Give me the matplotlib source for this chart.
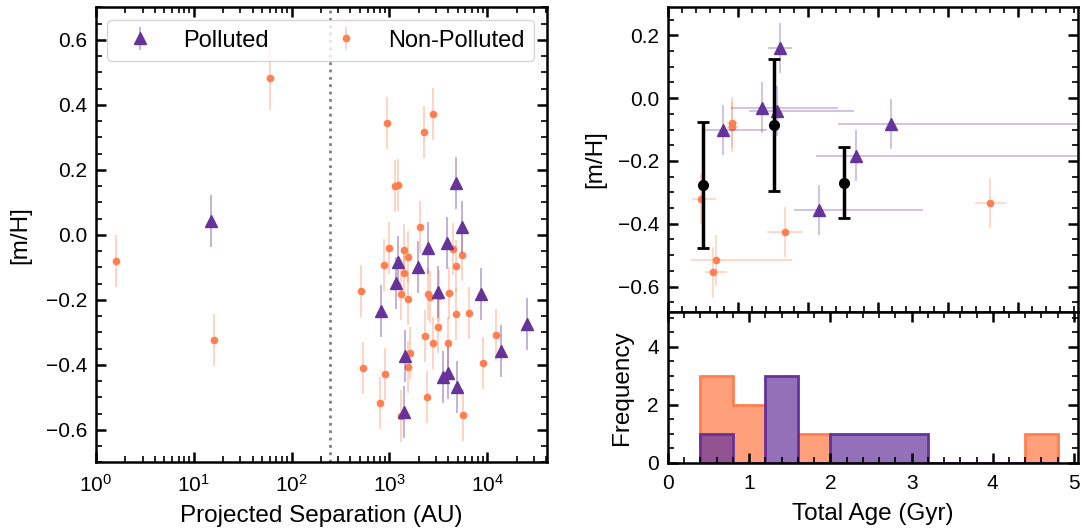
import matplotlib
matplotlib.use("Agg")
import matplotlib.pyplot as plt
from matplotlib.ticker import MultipleLocator, LogLocator, NullFormatter
import numpy as np

plt.rcParams['font.family'] = ['Liberation Sans', 'DejaVu Sans']
plt.rcParams['mathtext.fontset'] = 'custom'
plt.rcParams['mathtext.rm'] = 'Liberation Sans'
plt.rcParams['mathtext.it'] = 'Liberation Sans:italic'

PURPLE = '#663399'
ORANGE = '#ff7f50'

# left panel: projected separation (AU) vs [m/H]
sep_pol = [15, 4760, 5500, 2480, 3880, 1230, 1950, 1170, 3140, 8700,
           822, 25400, 14000, 1430, 3990, 3500, 4920, 1400]
mh_pol = [0.043, 0.161, 0.026, -0.041, -0.026, -0.082, -0.100, -0.147, -0.176, -0.183,
          -0.233, -0.274, -0.357, -0.371, -0.426, -0.438, -0.468, -0.544]
mh_pol_err = [0.08] * len(mh_pol)

sep_non = [1.6, 16, 60, 937, 2240, 2790, 1133, 1230, 2040, 985,
           1420, 1560, 4500, 5500, 875, 4800, 1410, 515, 1320, 1540,
           2460, 2620, 3230, 4120, 4760, 6500, 3170, 2330, 2770, 4000,
           12300, 1620, 535, 904, 1550, 9170, 810, 2450, 1330, 5730]
mh_non = [-0.080, -0.323, 0.483, 0.344, 0.316, 0.371, 0.150, 0.153, 0.026, -0.040,
          -0.045, -0.069, -0.044, -0.062, -0.091, -0.095, -0.116, -0.171, -0.183, -0.197,
          -0.183, -0.190, -0.189, -0.178, -0.242, -0.239, -0.284, -0.311, -0.331, -0.333,
          -0.309, -0.364, -0.408, -0.427, -0.407, -0.393, -0.518, -0.500, -0.557, -0.555]
mh_non_err = [0.08, 0.08, 0.10] + [0.08] * 37

sep_cut = 250

# right panel: total age (Gyr) vs [m/H]
age_pol = [0.789, 1.345, 1.55, 1.598, 2.154, 2.68, 3.18]
age_pol_lo = [0.26, 0.45, 0.39, 0.17, 0.35, 0.57, 0.75]
age_pol_hi = [0.62, 1.08, 1.11, 0.17, 1.49, 3.5, 3.0]
mh_age_pol = [-0.101, -0.030, -0.042, 0.160, -0.357, -0.183, -0.083]
mh_age_pol_err = [0.08] * 7

age_non = [0.47, 0.64, 0.685, 0.917, 0.917, 1.665, 4.59]
age_non_lo = [0.13, 0.11, 0.35, 0.08, 0.08, 0.25, 0.21]
age_non_hi = [0.21, 0.20, 1.08, 0.08, 0.08, 0.26, 0.23]
mh_age_non = [-0.322, -0.555, -0.517, -0.078, -0.091, -0.426, -0.333]
mh_age_non_err = [0.08] * 7

age_bin = [0.504, 1.508, 2.51]
mh_bin = [-0.276, -0.085, -0.270]
mh_bin_err = [0.20, 0.21, 0.113]

hist_edges = np.arange(0.4, 5.0, 0.4)

LABEL_SIZE = 17.5


def style_axes(ax):
    for s in ax.spines.values():
        s.set_linewidth(1.8)
    ax.tick_params(which='both', direction='in', top=True, right=True, labelsize=15)
    ax.tick_params(which='major', length=7, width=1.8, pad=6.5)
    ax.tick_params(axis='x', which='major', pad=8)
    ax.tick_params(which='minor', length=4, width=1.2)


fig = plt.figure(figsize=(10.82, 5.30), dpi=100)

ax1 = fig.add_axes([96 / 1082, 0.1274, 451 / 1082, 0.8585])
ax1.errorbar(sep_pol, mh_pol, yerr=mh_pol_err, fmt='^', color=PURPLE, ms=9,
             ecolor=(0.4, 0.2, 0.6, 0.45), elinewidth=1.2, label='Polluted', zorder=3)
ax1.errorbar(sep_non, mh_non, yerr=mh_non_err, fmt='o', color=ORANGE, ms=4.5,
             ecolor=(1.0, 0.5, 0.31, 0.4), elinewidth=1.2, label='Non-Polluted', zorder=2)
ax1.axvline(sep_cut, color='gray', ls=':', lw=2)
ax1.set_xscale('log')
ax1.set_xlim(1, 4.1e4)
ax1.set_ylim(-0.7, 0.7)
ax1.yaxis.set_major_locator(MultipleLocator(0.2))
ax1.yaxis.set_minor_locator(MultipleLocator(0.05))
ax1.xaxis.set_minor_locator(LogLocator(base=10, subs=np.arange(2, 10), numticks=20))
ax1.xaxis.set_minor_formatter(NullFormatter())
ax1.set_xlabel('Projected Separation (AU)', fontsize=LABEL_SIZE, labelpad=7)
ax1.set_ylabel('[m/H]', fontsize=LABEL_SIZE, labelpad=10)
style_axes(ax1)
ax1.legend(loc='lower left', bbox_to_anchor=(0.025, 0.882, 0.947, 0.09), mode='expand',
           ncol=2, fontsize=17, handletextpad=0.8, borderaxespad=0)

ax2 = fig.add_axes([668 / 1082, 0.4119, 410 / 1082, 0.5749])
ax2.errorbar(age_pol, mh_age_pol, xerr=[age_pol_lo, age_pol_hi], yerr=mh_age_pol_err,
             fmt='^', color=PURPLE, ms=9, ecolor=(0.4, 0.2, 0.6, 0.35), elinewidth=1.2, zorder=3)
ax2.errorbar(age_non, mh_age_non, xerr=[age_non_lo, age_non_hi], yerr=mh_age_non_err,
             fmt='o', color=ORANGE, ms=4.5, ecolor=(1.0, 0.5, 0.31, 0.35), elinewidth=1.2, zorder=2)
ax2.errorbar(age_bin, mh_bin, yerr=mh_bin_err, fmt='o', color='k', ms=7,
             elinewidth=2.5, capsize=4, capthick=2, zorder=4)
ax2.set_xlim(0, 5.85)
ax2.set_ylim(-0.68, 0.29)
ax2.xaxis.set_major_locator(MultipleLocator(1))
ax2.xaxis.set_minor_locator(MultipleLocator(0.2))
ax2.yaxis.set_major_locator(MultipleLocator(0.2))
ax2.yaxis.set_minor_locator(MultipleLocator(0.05))
ax2.set_xticklabels([])
ax2.set_ylabel('[m/H]', fontsize=LABEL_SIZE, labelpad=8)
style_axes(ax2)

ax3 = fig.add_axes([668 / 1082, 0.1270, 410 / 1082, 0.2849])
ax3.hist(age_non, bins=hist_edges, histtype='stepfilled', facecolor=(1.0, 0.5, 0.31, 0.75),
         edgecolor=ORANGE, lw=2)
ax3.hist(age_pol, bins=hist_edges, histtype='stepfilled', facecolor=(0.4, 0.2, 0.6, 0.7),
         edgecolor=PURPLE, lw=2)
ax3.set_xlim(0, 5.05)
ax3.set_ylim(0, 5.2)
ax3.xaxis.set_major_locator(MultipleLocator(1))
ax3.xaxis.set_minor_locator(MultipleLocator(0.2))
ax3.yaxis.set_major_locator(MultipleLocator(2))
ax3.yaxis.set_minor_locator(MultipleLocator(0.5))
ax3.set_xlabel('Total Age (Gyr)', fontsize=LABEL_SIZE, labelpad=7)
ax3.set_ylabel('Frequency', fontsize=LABEL_SIZE, labelpad=10)
style_axes(ax3)

fig.savefig('out.png', dpi=100)
